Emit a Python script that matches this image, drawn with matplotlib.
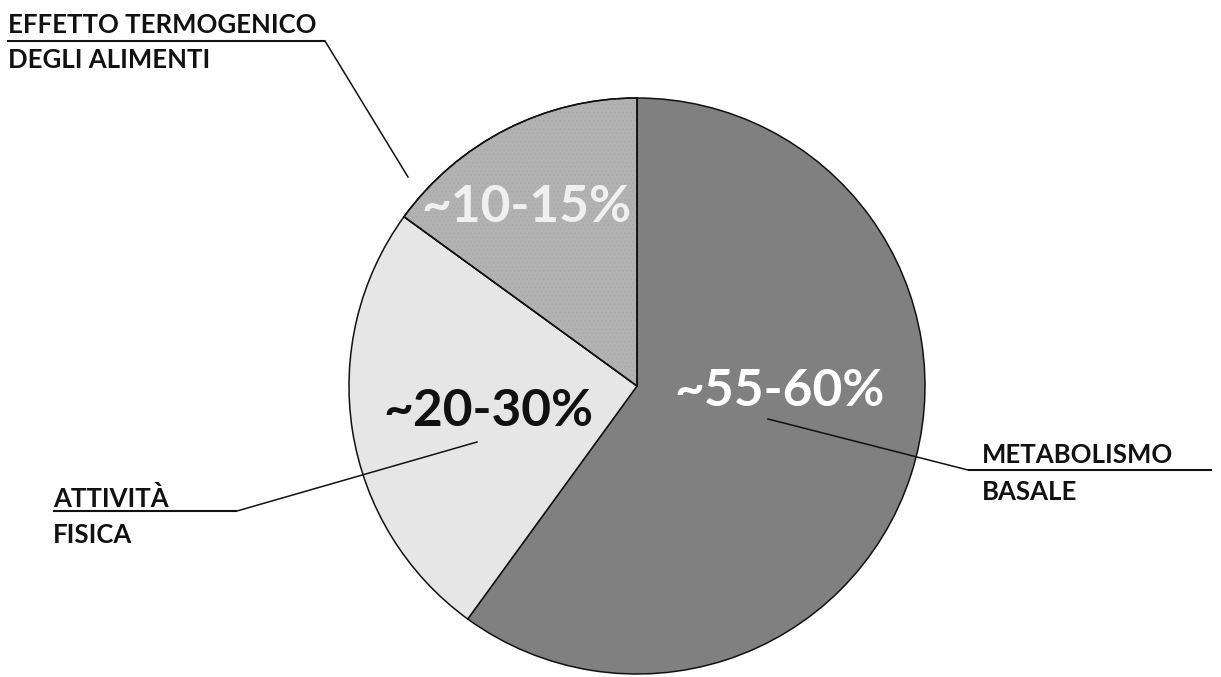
import matplotlib
matplotlib.use("Agg")
import matplotlib.pyplot as plt
import matplotlib.patches as mpatches

W, H = 1221, 677

labels = ["METABOLISMO\nBASALE", "ATTIVITÀ\nFISICA", "EFFETTO TERMOGENICO\nDEGLI ALIMENTI"]
values = [60, 25, 15]
pct_labels = ["~55-60%", "~20-30%", "~10-15%"]
colors = ["#808080", "#e6e6e6", "#b2b2b2"]
pct_colors = ["#ffffff", "#111111", "#f0f0f0"]

plt.rcParams['font.family'] = ['Lato', 'DejaVu Sans']
plt.rcParams['hatch.linewidth'] = 0.6

fig = plt.figure(figsize=(W / 100, H / 100), dpi=100)
ax = fig.add_axes([0, 0, 1, 1])

def Y(y):
    return H - y

cx, cy, r = 637, 386, 288
wedges, _ = ax.pie(values, colors=colors, startangle=90, counterclock=False,
                   center=(cx, Y(cy)), radius=r, frame=True,
                   wedgeprops=dict(edgecolor="#111111", linewidth=1.1))
ax.set_xlim(0, W)
ax.set_ylim(0, H)
ax.set_aspect('equal')
ax.axis('off')

# subtle texture on the small slice
w3 = wedges[2]
w3.set_zorder(1)
tex = mpatches.Wedge((cx, Y(cy)), r, w3.theta1, w3.theta2, facecolor='none',
                     edgecolor='#a9a9a9', hatch='....', linewidth=0, zorder=1.5)
ax.add_patch(tex)
outline = mpatches.Wedge((cx, Y(cy)), r, w3.theta1, w3.theta2, facecolor='none',
                         edgecolor='#111111', linewidth=1.1, zorder=2)
ax.add_patch(outline)

# percentage labels (pixel centers)
pct_pos = [(780, 392), (488, 412), (526, 208)]
for (x, y), t, c in zip(pct_pos, pct_labels, pct_colors):
    ax.text(x, Y(y), t, ha='center', va='center', fontsize=37, fontweight='bold',
            color=c, zorder=5)

ann = [
    dict(lines=("EFFETTO TERMOGENICO", "DEGLI ALIMENTI"), tx=8, b1=33, b2=68,
         ux0=7, ux1=325, uy=41, lead=(408, 177), anchor=(325, 41)),
    dict(lines=("METABOLISMO", "BASALE"), tx=982, b1=463, b2=500,
         ux0=968, ux1=1212, uy=470, lead=(768, 419), anchor=(968, 470)),
    dict(lines=("ATTIVITÀ", "FISICA"), tx=53, b1=507, b2=543,
         ux0=53, ux1=237, uy=511, lead=(477, 442), anchor=(237, 511)),
]
for a in ann:
    ax.text(a['tx'], Y(a['b1']), a['lines'][0], ha='left', va='baseline',
            fontsize=18.5, fontweight='bold', color='#111111', zorder=6)
    ax.text(a['tx'], Y(a['b2']), a['lines'][1], ha='left', va='baseline',
            fontsize=18.5, fontweight='bold', color='#111111', zorder=6)
    ax.plot([a['ux0'], a['ux1']], [Y(a['uy']), Y(a['uy'])], color='#111111',
            lw=1.5, solid_capstyle='butt', zorder=6)
    ax.plot([a['anchor'][0], a['lead'][0]], [Y(a['anchor'][1]), Y(a['lead'][1])],
            color='#111111', lw=1.1, zorder=6)

fig.savefig("out.png", dpi=100)
